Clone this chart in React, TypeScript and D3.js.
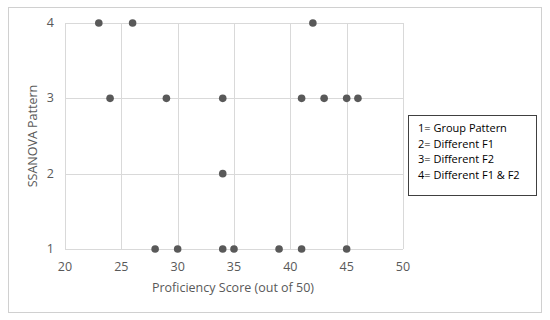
import React, { useEffect, useRef } from 'react';
import * as d3 from 'd3';

// proficiency score (x) and SSANOVA pattern (y)
const scores = [23, 26, 42, 24, 29, 34, 41, 43, 45, 46, 34, 28, 30, 34, 35, 39, 41, 45];
const patterns = [4, 4, 4, 3, 3, 3, 3, 3, 3, 3, 2, 1, 1, 1, 1, 1, 1, 1];
const xTicks = [20, 25, 30, 35, 40, 45, 50];
const yTicks = [1, 2, 3, 4];
const legendLines = ['1= Group Pattern', '2= Different F1', '3= Different F2', '4= Different F1 & F2'];

const font = '"Open Sans", "Noto Sans", sans-serif';

export default function App() {
    const ref = useRef<SVGSVGElement>(null);

    useEffect(() => {
        const svg = d3.select(ref.current);
        svg.selectAll('*').remove();

        const x = d3.scaleLinear().domain([20, 50]).range([65, 403]);
        const y = d3.scaleLinear().domain([1, 4]).range([249, 23]);

        // chart border
        svg.append('rect')
            .attr('x', 8.5).attr('y', 7.5)
            .attr('width', 533).attr('height', 305)
            .attr('fill', '#fff').attr('stroke', '#d0d0d0');

        const grid = svg.append('g').attr('stroke', '#d9d9d9').attr('stroke-width', 1);
        grid.selectAll('line.v').data(xTicks).enter().append('line')
            .attr('x1', d => Math.round(x(d)) + 0.5).attr('x2', d => Math.round(x(d)) + 0.5)
            .attr('y1', y(4)).attr('y2', y(1));
        grid.selectAll('line.h').data(yTicks).enter().append('line')
            .attr('x1', x(20)).attr('x2', x(50))
            .attr('y1', d => Math.round(y(d)) + 0.5).attr('y2', d => Math.round(y(d)) + 0.5);

        svg.append('g').selectAll('text').data(xTicks).enter().append('text')
            .attr('x', d => x(d)).attr('y', 271)
            .attr('text-anchor', 'middle')
            .attr('font-family', font).attr('font-size', 12.5).attr('fill', '#595959')
            .text(d => d);
        svg.append('g').selectAll('text').data(yTicks).enter().append('text')
            .attr('x', 54).attr('y', d => y(d) + 4)
            .attr('text-anchor', 'end')
            .attr('font-family', font).attr('font-size', 12.5).attr('fill', '#595959')
            .text(d => d);

        svg.append('text')
            .attr('x', 233).attr('y', 292)
            .attr('text-anchor', 'middle')
            .attr('font-family', font).attr('font-size', 12.5).attr('fill', '#595959')
            .text('Proficiency Score (out of 50)');
        svg.append('text')
            .attr('transform', 'translate(37,' + y(2.5) + ') rotate(-90)')
            .attr('text-anchor', 'middle')
            .attr('font-family', font).attr('font-size', 12.5).attr('fill', '#595959')
            .text('SSANOVA Pattern');

        svg.append('g').selectAll('circle').data(scores).enter().append('circle')
            .attr('cx', d => x(d))
            .attr('cy', (d, i) => y(patterns[i]))
            .attr('r', 3.8)
            .attr('fill', '#595959');

        // legend box
        svg.append('rect')
            .attr('x', 408.5).attr('y', 115.5)
            .attr('width', 128).attr('height', 80)
            .attr('fill', '#fff').attr('stroke', '#404040');
        svg.append('g').selectAll('text').data(legendLines).enter().append('text')
            .attr('x', 418).attr('y', (d, i) => 132 + i * 15.5)
            .attr('font-family', font).attr('font-size', 11).attr('fill', '#000')
            .text(d => d);
    }, []);

    return <svg ref={ref} width={550} height={320} style={{ position: 'absolute', left: 0, top: 0 }} />;
}
